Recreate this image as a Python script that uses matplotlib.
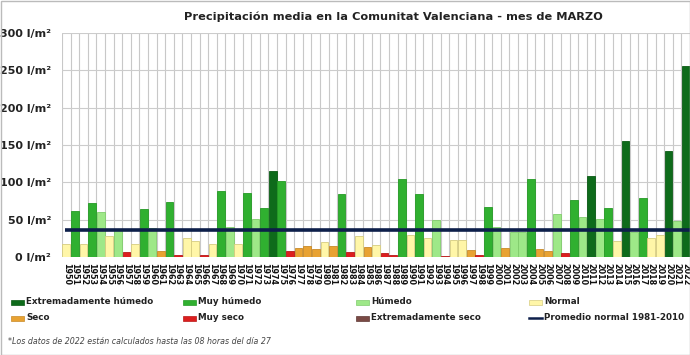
import matplotlib
matplotlib.use("Agg")
import matplotlib.pyplot as plt
from matplotlib.patches import Rectangle
from matplotlib.lines import Line2D

years = list(range(1950, 2023))
values = [17, 62, 17, 72, 60, 28, 36, 7, 17, 64,
          39, 8, 74, 3, 26, 21, 3, 18, 89, 40,
          17, 86, 51, 66, 115, 102, 8, 12, 15, 11,
          20, 15, 85, 7, 28, 13, 16, 5, 3, 104,
          30, 85, 26, 50, 2, 23, 23, 10, 3, 67,
          40, 12, 33, 33, 104, 11, 8, 58, 5, 77,
          54, 108, 51, 65, 22, 156, 33, 79, 26, 30,
          142, 48, 256]
cats = ["N", "MH", "N", "MH", "H", "N", "H", "MS", "N", "MH",
        "H", "S", "MH", "MS", "N", "N", "MS", "N", "MH", "H",
        "N", "MH", "H", "MH", "EH", "MH", "MS", "S", "S", "S",
        "N", "S", "MH", "MS", "N", "S", "N", "MS", "MS", "MH",
        "N", "MH", "N", "H", "MS", "N", "N", "S", "MS", "MH",
        "H", "S", "H", "H", "MH", "S", "S", "H", "MS", "MH",
        "H", "EH", "H", "MH", "N", "EH", "H", "MH", "N", "N",
        "EH", "H", "EH"]
normal_avg = 36

cat_order = ["EH", "MH", "H", "N", "S", "MS", "ES"]
cat_labels = {"EH": "Extremadamente húmedo", "MH": "Muy húmedo", "H": "Húmedo",
              "N": "Normal", "S": "Seco", "MS": "Muy seco", "ES": "Extremadamente seco"}
cat_colors = {"EH": "#0e6b1b", "MH": "#30b030", "H": "#9ee888", "N": "#fff6a8",
              "S": "#e8a232", "MS": "#dc1e1e", "ES": "#7a4a45"}
cat_edges = {"EH": "#0a5a14", "MH": "#259a25", "H": "#80cc6c", "N": "#d6cc80",
             "S": "#c88a28", "MS": "#b81818", "ES": "#5e3834"}
avg_label = "Promedio normal 1981-2010"
avg_color = "#0d1f4a"

fig = plt.figure(figsize=(6.9, 3.55), dpi=100)
fig.patch.set_facecolor("white")
ax = fig.add_axes([62/690, 1 - 257/355, 628/690, 224/355])

x = list(range(len(years)))
ax.bar(x, values, width=0.9,
       color=[cat_colors[c] for c in cats],
       edgecolor=[cat_edges[c] for c in cats], linewidth=0.6, zorder=3)
ax.plot([-0.2, 72.5], [normal_avg, normal_avg], color=avg_color, lw=2.6, zorder=4,
        solid_capstyle="butt")

ax.set_xlim(-0.5, 72.5)
ax.set_ylim(0, 300)
ax.set_yticks(range(0, 301, 50))
ax.set_yticklabels([f"{v} l/m²" for v in range(0, 301, 50)],
                   fontsize=8.0, fontweight="bold", color="#222222")
ax.set_xticks(x)
ax.set_xticklabels([str(y) for y in years], rotation=-90, fontsize=5.8,
                   fontweight="bold", color="#111111")
ax.set_xticks([i - 0.5 for i in range(len(years) + 1)], minor=True)
ax.tick_params(axis="both", which="both", length=0)
ax.tick_params(axis="x", pad=4)
ax.tick_params(axis="y", pad=8)
ax.grid(True, axis="y", which="major", color="#cccccc", lw=0.8, zorder=0)
ax.grid(True, axis="x", which="minor", color="#c8c8c8", lw=0.8, zorder=0)
ax.grid(False, axis="x", which="major")
for s in ax.spines.values():
    s.set_visible(False)

fig.text(393.5 / 690, 1 - 17/355, "Precipitación media en la Comunitat Valenciana - mes de MARZO",
         ha="center", va="center", fontsize=8.2, fontweight="bold", color="#222222")

# legend (manual placement)
col_x = [11, 183, 356, 529]
row_y = [302, 318]
entries = [("EH", 0, 0), ("MH", 1, 0), ("H", 2, 0), ("N", 3, 0),
           ("S", 0, 1), ("MS", 1, 1), ("ES", 2, 1)]
for key, ci, ri in entries:
    px, py = col_x[ci], row_y[ri]
    fig.patches.append(Rectangle((px / 690, 1 - (py + 2.5) / 355), 13 / 690, 5 / 355,
                                 transform=fig.transFigure, facecolor=cat_colors[key],
                                 edgecolor=cat_edges[key], lw=0.5))
    fig.text((px + 15) / 690, 1 - py / 355, cat_labels[key], ha="left", va="center",
             fontsize=6.3, fontweight="bold", color="#222222")
px, py = col_x[3], row_y[1]
fig.lines.append(Line2D([px / 690, (px + 13) / 690], [1 - py / 355, 1 - py / 355],
                        transform=fig.transFigure, color=avg_color, lw=1.8))
fig.text((px + 15) / 690, 1 - py / 355, avg_label, ha="left", va="center",
         fontsize=6.3, fontweight="bold", color="#222222")

fig.text(8 / 690, 1 - 341 / 355,
         "*Los datos de 2022 están calculados hasta las 08 horas del día 27",
         ha="left", va="center", fontsize=5.7, style="italic", color="#444444")

fig.patches.append(Rectangle((0.5 / 690, 0.5 / 355), 689 / 690, 354 / 355,
                             transform=fig.transFigure, fill=False,
                             edgecolor="#bbbbbb", lw=1))

fig.savefig("out.png", dpi=100)
